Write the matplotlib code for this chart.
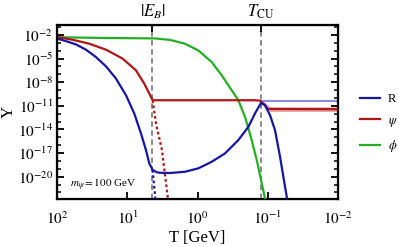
import numpy as np
import matplotlib
matplotlib.use("Agg")
import matplotlib.pyplot as plt

plt.rcParams['font.family'] = ['Liberation Serif', 'DejaVu Serif']
plt.rcParams['mathtext.fontset'] = 'stix'

# values, as log10(T / GeV) and log10(Y)
lgT_R = [2.0, 1.879, 1.736, 1.593, 1.45, 1.307, 1.164, 1.021, 0.903, 0.807, 0.736, 0.689,
         0.64, 0.579, 0.536, 0.393, 0.179, -0.011, -0.203, -0.393, -0.583, -0.726, -0.821,
         -0.907, -0.964, -1.036, -1.107, -1.179, -1.226, -1.274, -1.293]
lgY_R = [-2.48, -2.78, -3.20, -3.87, -4.81, -5.99, -7.54, -9.66, -11.97, -14.51, -16.62,
         -18.30, -19.15, -19.44, -19.50, -19.53, -19.37, -18.94, -18.10, -17.04, -15.35,
         -13.67, -11.97, -10.63, -10.92, -12.19, -14.09, -17.47, -20.0, -22.53, -23.71]

lgT_psi = [2.0, 1.783, 1.546, 1.307, 1.069, 0.879, 0.76, 0.689, 0.64, 0.55, -0.821,
           -0.893, -0.95, -1.007, -2.0]
lgY_psi = [-2.28, -2.61, -3.11, -3.87, -5.01, -6.49, -8.18, -9.44, -10.29, -10.29, -10.29,
           -10.35, -10.80, -11.40, -11.43]

lgT_phi = [2.0, 1.393, 0.607, 0.393, 0.179, -0.011, -0.203, -0.346, -0.489, -0.583,
           -0.679, -0.774, -0.846, -0.917, -0.964, -0.979]
lgY_phi = [-2.28, -2.38, -2.44, -2.63, -3.11, -3.96, -5.44, -7.13, -9.03, -10.29, -12.41,
           -15.35, -17.89, -20.84, -22.73, -23.58]

# dotted continuations below |E_B|
lgT_psi_dot = [0.64, 0.593, 0.507, 0.421]
lgY_psi_dot = [-10.29, -13.24, -16.62, -22.9]
lgT_R_dot = [0.64, 0.621, 0.60]
lgY_R_dot = [-19.15, -21.05, -22.9]

# after T_CU
lgT_light = [-0.907, -2.0]
lgY_light = [-10.33, -10.33]
lgT_band = [-0.93, -0.98, -1.03, -2.0]
lgY_band_lo = [-10.6, -11.05, -11.72, -11.72]
lgY_band_hi = [-10.4, -10.7, -11.12, -11.12]

E_B = 4.4
T_CU = 0.124

blue = '#1616a6'
red = '#b01414'
green = '#22b022'

p = lambda a: 10.0 ** np.array(a)

fig = plt.figure(figsize=(3.99, 2.47), dpi=100)
ax = fig.add_axes([0.144, 0.194, 0.702, 0.705])

ax.axvline(E_B, color='#808080', ls=(0, (3, 2)), lw=1.3, zorder=1)
ax.axvline(T_CU, color='#808080', ls=(0, (3, 2)), lw=1.3, zorder=1)

ax.fill_between(p(lgT_band), p(lgY_band_lo), p(lgY_band_hi), color='#eaa8a8', lw=0, zorder=2)
ax.plot(p(lgT_light), p(lgY_light), color='#8c8ce2', lw=1.5, zorder=2)

ax.plot(p(lgT_phi), p(lgY_phi), color=green, lw=1.6, label=r'$\phi$', zorder=3)
ax.plot(p(lgT_psi), p(lgY_psi), color=red, lw=1.6, label=r'$\psi$', zorder=3)
ax.plot(p(lgT_R), p(lgY_R), color=blue, lw=1.6, label='R', zorder=4)
ax.plot(p(lgT_psi_dot), p(lgY_psi_dot), color=red, lw=1.6, ls=(0, (1.2, 1.2)), zorder=3)
ax.plot(p(lgT_R_dot), p(lgY_R_dot), color=blue, lw=1.6, ls=(0, (1.2, 1.2)), zorder=3)

ax.set_xscale('log')
ax.set_yscale('log')
ax.set_xlim(100, 0.01)
ax.set_ylim(10**-22.84, 10**-0.73)

ax.set_xticks([100, 10, 1, 0.1, 0.01])
ax.set_xticklabels([r'$10^{2}$', r'$10^{1}$', r'$10^{0}$', r'$10^{-1}$', r'$10^{-2}$'])
ax.xaxis.set_minor_locator(matplotlib.ticker.NullLocator())
ax.set_yticks([10.0**k for k in [-2, -5, -8, -11, -14, -17, -20]])
ax.set_yticklabels([r'$10^{%d}$' % k for k in [-2, -5, -8, -11, -14, -17, -20]])
ax.set_yticks([10.0**k for k in range(-22, 0)], minor=True)
ax.set_yticklabels([], minor=True)

ax.tick_params(which='both', direction='in', top=True, right=True, labelsize=11)
ax.tick_params(which='major', length=5, width=1.3)
ax.tick_params(which='minor', length=3, width=1.1)
ax.tick_params(axis='x', pad=8)
ax.tick_params(axis='y', pad=3)
for s in ax.spines.values():
    s.set_linewidth(1.6)

ax.set_xlabel('T [GeV]', fontsize=12, labelpad=2)
ax.set_ylabel('Y', fontsize=12, labelpad=1)

top = ax.twiny()
top.set_xscale('log')
top.set_xlim(ax.get_xlim())
top.set_xticks([E_B, T_CU])
top.set_xticklabels([r'$|E_B|$', r'$T_{\rm CU}$'], fontsize=12)
top.xaxis.set_minor_locator(matplotlib.ticker.NullLocator())
top.tick_params(direction='in', length=5, width=1.3, pad=3)

ax.text(0.045, 0.065, r'$m_\psi = 100$ GeV', transform=ax.transAxes, fontsize=8)

h, l = ax.get_legend_handles_labels()
fig.legend(h[::-1], l[::-1], loc='center left', bbox_to_anchor=(0.875, 0.50), frameon=False,
           fontsize=9, handlelength=1.6, labelspacing=0.75, handletextpad=0.6)

fig.savefig('out.png', dpi=100)
